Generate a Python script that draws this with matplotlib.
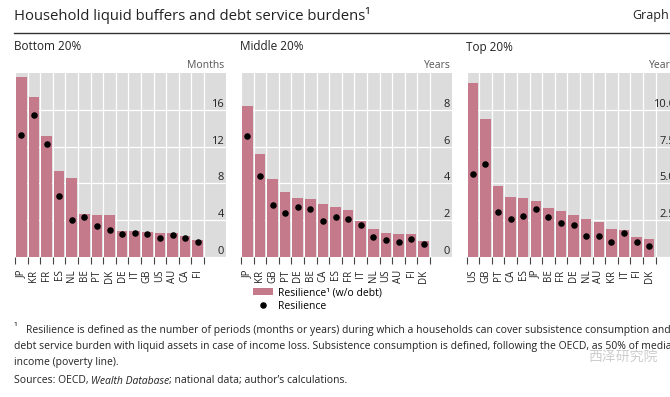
import matplotlib
matplotlib.use("Agg")
import matplotlib.pyplot as plt
from matplotlib.patches import Patch
from matplotlib.lines import Line2D
import numpy as np

plt.rcParams['font.family'] = ['Open Sans', 'DejaVu Sans']

# ---------------- data ----------------
bottom_countries = ['JP', 'KR', 'FR', 'ES', 'NL', 'BE', 'PT', 'DK', 'DE', 'IT', 'GB', 'US', 'AU', 'CA', 'FI']
bottom_wo_debt = [19.6, 17.4, 13.1, 9.3, 8.6, 4.7, 4.55, 4.55, 2.8, 2.8, 2.7, 2.65, 2.6, 2.3, 1.8]
bottom_resilience = [13.25, 15.45, 12.3, 6.6, 4.0, 4.35, 3.35, 2.9, 2.45, 2.6, 2.45, 2.05, 2.35, 2.1, 1.65]

middle_countries = ['JP', 'KR', 'GB', 'PT', 'DE', 'BE', 'CA', 'ES', 'FR', 'IT', 'NL', 'US', 'AU', 'FI', 'DK']
middle_wo_debt = [8.2, 5.6, 4.25, 3.55, 3.2, 3.15, 2.9, 2.7, 2.55, 1.95, 1.5, 1.3, 1.25, 1.25, 0.85]
middle_resilience = [6.6, 4.4, 2.8, 2.4, 2.7, 2.6, 1.95, 2.15, 2.05, 1.75, 1.1, 0.9, 0.8, 1.0, 0.7]

top_countries = ['US', 'GB', 'PT', 'CA', 'ES', 'JP', 'BE', 'FR', 'DE', 'NL', 'AU', 'KR', 'IT', 'FI', 'DK']
top_wo_debt = [11.8, 9.35, 4.8, 4.1, 4.0, 3.8, 3.3, 3.15, 2.88, 2.6, 2.4, 1.92, 1.83, 1.34, 1.2]
top_resilience = [5.62, 6.34, 3.03, 2.56, 2.79, 3.24, 2.74, 2.29, 2.17, 1.43, 1.4, 1.0, 1.63, 1.04, 0.75]

panel_titles = ['Bottom 20%', 'Middle 20%', 'Top 20%']
units = ['Months', 'Years', 'Years']
y_ticks = [[0, 4, 8, 12, 16], [0, 2, 4, 6, 8], [0, 2.5, 5, 7.5, 10]]
y_ticklabels = [['0', '4', '8', '12', '16'], ['0', '2', '4', '6', '8'],
                ['0', '2.5', '5.0', '7.5', '10.0']]
y_max = [20, 10, 12.5]

# ---------------- style ----------------
W, H = 670, 397
BAR = '#c47a8b'
BG = '#dcdcdc'
TXT = '#222222'

fig = plt.figure(figsize=(W / 100, H / 100), dpi=100)


def fx(x):
    return x / W


def fy(y):
    return 1 - y / H


panel_left = [15, 241, 466.5]
ax_w, top_px, bot_px = 211, 73, 257
n_cat = 15
cat_px = 12.6

datasets = [(bottom_countries, bottom_wo_debt, bottom_resilience),
            (middle_countries, middle_wo_debt, middle_resilience),
            (top_countries, top_wo_debt, top_resilience)]

for i, (cats, wo, res) in enumerate(datasets):
    l = panel_left[i]
    ax = fig.add_axes([fx(l), fy(bot_px), ax_w / W, (bot_px - top_px) / H])
    ax.set_facecolor(BG)
    for s in ax.spines.values():
        s.set_visible(False)
    x = np.arange(len(cats))
    ax.bar(x, wo, width=0.84, color=BAR, zorder=2)
    ax.plot(x, res, 'o', color='black', ms=3.7, zorder=3, ls='none')
    ax.set_xlim(-0.5, -0.5 + ax_w / cat_px)
    ax.set_ylim(0, y_max[i])
    ax.set_axisbelow(True)
    # x: boundaries as major ticks (marks + grid), labels at centres
    ax.set_xticks(np.arange(-0.5, n_cat, 1.0))
    ax.set_xticklabels([])
    ax.set_xticks(x, minor=True)
    ax.set_xticklabels(cats, minor=True, rotation=90, fontsize=7, color=TXT)
    ax.tick_params(axis='x', which='major', length=5, width=0.8, color='#444444', direction='out')
    ax.tick_params(axis='x', which='minor', length=0, pad=9)
    ax.xaxis.grid(True, which='major', color='white', lw=0.9)
    # y on right, inside
    ax.yaxis.tick_right()
    ax.set_yticks(y_ticks[i])
    ax.set_yticklabels(y_ticklabels[i])
    ax.tick_params(axis='y', length=0, pad=-1.5, labelsize=8, labelcolor=TXT)
    plt.setp(ax.get_yticklabels(), ha='right', va='bottom')
    ax.yaxis.grid(True, color='white', lw=0.9)
    # unit label
    fig.text(fx(l + ax_w - 1.5), fy(65), units[i], ha='right', va='center', fontsize=7.5, color='#555555')
    # panel title
    fig.text(fx(l - 1), fy(47), panel_titles[i], ha='left', va='center', fontsize=8.5, color=TXT)

# title and rule
fig.text(fx(14), fy(15), 'Household liquid buffers and debt service burdens\u00b9', ha='left', va='center',
         fontsize=10.7, color=TXT)
fig.text(fx(632), fy(16), 'Graph', ha='left', va='center', fontsize=9, color=TXT)
fig.add_artist(Line2D([fx(14), 1.0], [fy(33), fy(33)], transform=fig.transFigure, color='#333333', lw=1))

# legend
handles = [Patch(facecolor=BAR, edgecolor='none'),
           Line2D([], [], marker='o', ls='none', color='black', ms=3.7)]
fig.legend(handles, ['Resilience\u00b9 (w/o debt)', 'Resilience'], loc='upper left',
           bbox_to_anchor=(fx(251), fy(285)), frameon=False, fontsize=7.5,
           handlelength=1.9, handleheight=0.65, handletextpad=0.5, labelspacing=0.25,
           borderaxespad=0, borderpad=0.2)

# footnotes
fs = 7.45
fig.text(fx(14), fy(328), '\u00b9', ha='left', va='center', fontsize=fs, color=TXT)
fig.text(fx(26), fy(330), 'Resilience is defined as the number of periods (months or years) during which a households '
         'can cover subsistence consumption and the', ha='left', va='center', fontsize=fs, color=TXT)
fig.text(fx(14), fy(346), 'debt service burden with liquid assets in case of income loss. Subsistence consumption is '
         'defined, following the OECD, as 50% of median', ha='left', va='center', fontsize=fs, color=TXT)
fig.text(fx(14), fy(362), 'income (poverty line).', ha='left', va='center', fontsize=fs, color=TXT)

fig.canvas.draw()
r = fig.canvas.get_renderer()
parts = [('Sources: OECD, ', 'normal'), ('Wealth Database', 'italic'),
         ('; national data; author\u2019s calculations.', 'normal')]
xpos = fx(14)
for s, st in parts:
    t = fig.text(xpos, fy(381), s, ha='left', va='center', fontsize=fs, style=st, color=TXT)
    bb = t.get_window_extent(renderer=r)
    xpos += bb.width / W

# watermark
fig.text(fx(588), fy(357), '西泽研究院', ha='left', va='center', fontsize=10,
         family=['Noto Sans CJK SC', 'DejaVu Sans'], color='#c8c8c8', alpha=0.9)

fig.savefig('out.png', dpi=100)
